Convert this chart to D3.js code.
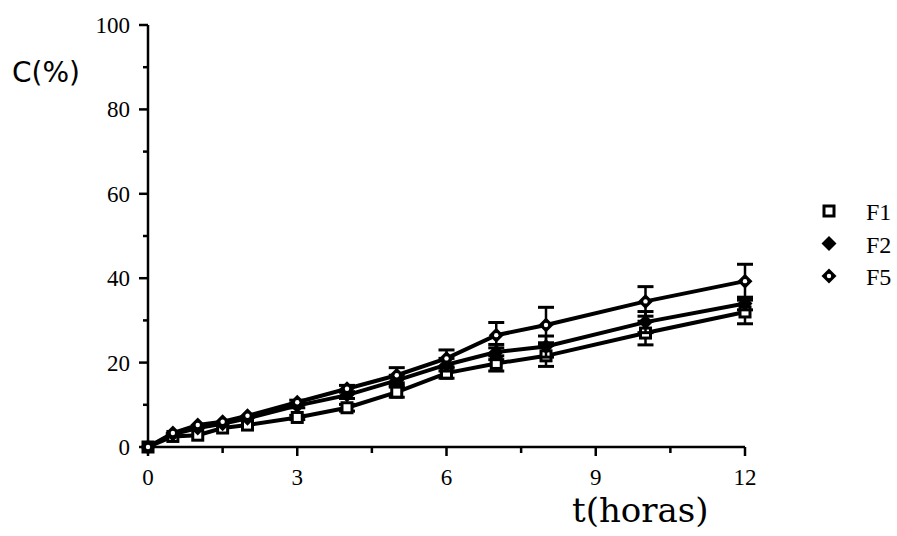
<!DOCTYPE html>
<html><head><meta charset="utf-8">
<script src="https://cdn.jsdelivr.net/npm/d3@7"></script>
<style>body{margin:0;background:#fff}svg{display:block}</style>
</head><body>
<svg id="c" width="897" height="536"></svg>
<script>
const times = [0,0.5,1,1.5,2,3,4,5,6,7,8,10,12];
const F1 = [0,2.5,2.8,4.5,5.2,7.0,9.3,13.0,17.5,19.8,21.6,27.0,32.0];
const F2 = [0,3.0,4.5,5.5,6.8,9.8,12.3,15.8,19.5,22.5,23.8,29.6,34.0];
const F5 = [0,3.3,5.2,6.0,7.4,10.6,13.8,17.0,21.0,26.5,28.9,34.5,39.3];
const F1err = [0,0,0,0,0,0.5,0.8,1.2,1.2,1.8,2.5,2.8,2.8];
const F2err = [0,0,0,0,0,0.5,0.8,1.2,1.5,1.8,2.5,2.5,1.5];
const F5err = [0,0,0,0,0,0.5,0.8,1.8,2.0,3.0,4.2,3.5,4.0];
const seriesNames = ["F1","F2","F5"];
const xTicks = [0,3,6,9,12];
const yTicks = [0,20,40,60,80,100];

const svg = d3.select("#c");
const x = d3.scaleLinear().domain([0,12]).range([148,745]);
const y = d3.scaleLinear().domain([0,100]).range([447,25]);
const serif = "Liberation Serif, DejaVu Serif, serif";

// axes
const xAxis = svg.append("g").attr("transform","translate(0,447)");
xAxis.append("line").attr("x1",x(0)).attr("x2",x(12)).attr("stroke","#000").attr("stroke-width",2.5);
xAxis.selectAll(".mt").data(d3.range(0,12.01,1.5)).join("line")
  .attr("x1",d=>x(d)).attr("x2",d=>x(d)).attr("y1",0)
  .attr("y2",d=>xTicks.includes(d)?9:6).attr("stroke","#000").attr("stroke-width",2.5);
xAxis.selectAll("text").data(xTicks).join("text")
  .attr("x",d=>x(d)).attr("y",38).attr("text-anchor","middle")
  .attr("font-family",serif).attr("font-size",23).text(d=>d);

const yAxis = svg.append("g").attr("transform","translate(148,0)");
yAxis.append("line").attr("y1",y(0)).attr("y2",y(100)).attr("stroke","#000").attr("stroke-width",2.5);
yAxis.selectAll(".mt").data(d3.range(0,101,10)).join("line")
  .attr("y1",d=>y(d)).attr("y2",d=>y(d)).attr("x1",0)
  .attr("x2",d=>yTicks.includes(d)?-9:-5).attr("stroke","#000").attr("stroke-width",2.5);
yAxis.selectAll("text").data(yTicks).join("text")
  .attr("x",-18).attr("y",d=>y(d)+8).attr("text-anchor","end")
  .attr("font-family",serif).attr("font-size",23).text(d=>d);

svg.append("text").attr("x",12).attr("y",82).attr("font-family","DejaVu Sans, Liberation Sans, sans-serif")
  .attr("font-size",28).text("C(%)");
svg.append("text").attr("x",572).attr("y",522).attr("font-family","DejaVu Serif, serif")
  .attr("font-size",34).text("t(horas)");

const data = [
  {name:"F1", vals:F1, err:F1err, shape:"square"},
  {name:"F2", vals:F2, err:F2err, shape:"dfill"},
  {name:"F5", vals:F5, err:F5err, shape:"dopen"}
];
const line = d3.line().x(d=>x(d[0])).y(d=>y(d[1]));

function marker(g, shape){
  if(shape==="square"){
    g.append("rect").attr("x",-5).attr("y",-5).attr("width",10).attr("height",10)
      .attr("fill","#fff").attr("stroke","#000").attr("stroke-width",3);
  } else if(shape==="dfill"){
    g.append("path").attr("d","M0,-7.5L7.5,0L0,7.5L-7.5,0Z").attr("fill","#000");
  } else {
    g.append("path").attr("d","M0,-7.5L7.5,0L0,7.5L-7.5,0Z").attr("fill","#000");
    g.append("circle").attr("r",2.2).attr("fill","#fff");
  }
}

data.forEach(s=>{
  const pts = times.map((t,i)=>[t,s.vals[i],s.err[i]]);
  const g = svg.append("g");
  g.selectAll(".eb").data(pts.filter(p=>p[2]>0)).join("g").each(function(p){
    const e = d3.select(this);
    e.append("line").attr("x1",x(p[0])).attr("x2",x(p[0])).attr("y1",y(p[1]-p[2])).attr("y2",y(p[1]+p[2]))
      .attr("stroke","#000").attr("stroke-width",2.5);
    [p[1]-p[2],p[1]+p[2]].forEach(v=>{
      e.append("line").attr("x1",x(p[0])-8).attr("x2",x(p[0])+8).attr("y1",y(v)).attr("y2",y(v))
        .attr("stroke","#000").attr("stroke-width",3);
    });
  });
  g.append("path").datum(pts).attr("d",line).attr("fill","none").attr("stroke","#000").attr("stroke-width",4);
  g.selectAll(".m").data(pts).join("g").attr("transform",p=>`translate(${x(p[0])},${y(p[1])})`)
    .each(function(){ marker(d3.select(this), s.shape); });
});

// legend
const leg = svg.append("g");
data.forEach((s,i)=>{
  const ly = 211 + i*32.5;
  const g = leg.append("g").attr("transform",`translate(829,${ly})`);
  marker(g, s.shape);
  leg.append("text").attr("x",866).attr("y",ly+9).attr("font-family",serif).attr("font-size",24).text(s.name);
});
</script>
</body></html>
